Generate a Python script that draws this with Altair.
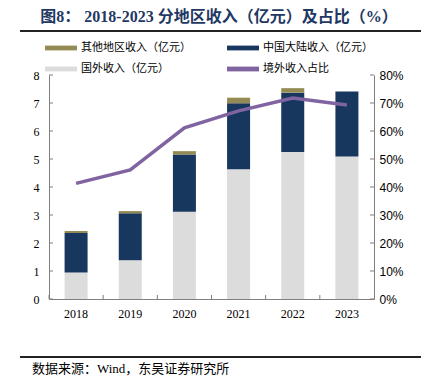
import altair as alt
import pandas as pd

years = ["2018", "2019", "2020", "2021", "2022", "2023"]
overseas = [0.95, 1.38, 3.12, 4.63, 5.25, 5.09]
mainland = [1.41, 1.68, 2.04, 2.36, 2.12, 2.32]
other = [0.07, 0.08, 0.12, 0.20, 0.16, 0.0]
share = [0.413, 0.461, 0.611, 0.672, 0.718, 0.693]

s_other = "其他地区收入（亿元）"
s_main = "中国大陆收入（亿元）"
s_over = "国外收入（亿元）"
s_share = "境外收入占比"
# legend fills column by column: col 1 = other, overseas ; col 2 = mainland, share
series_order = [s_other, s_over, s_main, s_share]
colors = ["#948A54", "#DCDCDC", "#17375E", "#8064A2"]

left_ticks = [0, 1, 2, 3, 4, 5, 6, 7, 8]
right_ticks = [0, 0.1, 0.2, 0.3, 0.4, 0.5, 0.6, 0.7, 0.8]

title_text = "图8： 2018-2023 分地区收入（亿元）及占比（%）"
source_text = "数据来源：Wind，东吴证券研究所"

SERIF = "Liberation Serif, Noto Sans CJK SC"
CJK = "Noto Sans CJK SC"
W, H = 325, 224

rows = []
for i, y in enumerate(years):
    rows.append({"year": y, "series": s_over, "value": overseas[i], "ord": 0})
    rows.append({"year": y, "series": s_main, "value": mainland[i], "ord": 1})
    rows.append({"year": y, "series": s_other, "value": other[i], "ord": 2})
bar_df = pd.DataFrame(rows)
line_df = pd.DataFrame({"year": years, "share": share})

xscale = alt.Scale(paddingInner=0, paddingOuter=0)
xenc = alt.X("year:N", scale=xscale, sort=years,
             axis=alt.Axis(title=None, labelAngle=0, ticks=False, labelFont=SERIF,
                           labelFontSize=12, labelColor="#000", labelPadding=9,
                           domainColor="#7f7f7f"))

left_axis = alt.Axis(title=None, orient="left", values=left_ticks, ticks=False,
                     grid=False, labelFont=SERIF, labelFontSize=12, labelColor="#000",
                     labelPadding=10, domainColor="#7f7f7f")
right_axis = alt.Axis(title=None, orient="right", values=right_ticks, format=".0%",
                      ticks=False, grid=False, labelFont="Liberation Sans",
                      labelFontSize=12, labelColor="#000", labelPadding=5,
                      domainColor="#7f7f7f")
lscale = alt.Scale(domain=[0, 8], nice=False)
rscale = alt.Scale(domain=[0, 0.8], nice=False)

color_enc = alt.Color("series:N", scale=alt.Scale(domain=series_order, range=colors),
                      legend=alt.Legend(title=None, orient="none", legendX=-4, legendY=-43,
                                        columns=2, symbolType="M-1,-0.15L1,-0.15L1,0.15L-1,0.15Z",
                                        symbolSize=1024, symbolStrokeWidth=0,
                                        labelFont=CJK, labelFontSize=11, labelColor="#000",
                                        labelOffset=4, columnPadding=36, rowPadding=0,
                                        labelLimit=200))

bars = alt.Chart(bar_df).mark_bar(size=23).encode(
    x=xenc,
    y=alt.Y("value:Q", stack="zero", scale=lscale, axis=left_axis),
    color=color_enc,
    order=alt.Order("ord:Q", sort="ascending"),
)

xticks = alt.Chart(pd.DataFrame({"year": years})).mark_rule(color="#7f7f7f").encode(
    x=alt.X("year:N", sort=years, bandPosition=0, scale=xscale),
    y=alt.value(H), y2=alt.value(H - 4),
)

lticks = alt.Chart(pd.DataFrame({"value": left_ticks})).mark_rule(color="#7f7f7f").encode(
    y=alt.Y("value:Q", scale=lscale, axis=left_axis), x=alt.value(0), x2=alt.value(4),
)

title = alt.Chart(pd.DataFrame({"t": [title_text]})).mark_text(
    font=SERIF, fontSize=16, fontWeight="bold", color="#1F3864", align="center",
    baseline="middle").encode(text="t:N", x=alt.value(170), y=alt.value(-58))

rule_top = alt.Chart(pd.DataFrame({"a": [0]})).mark_rule(strokeWidth=2, color="#222").encode(
    x=alt.value(-29), x2=alt.value(372), y=alt.value(-44))
rule_bot = alt.Chart(pd.DataFrame({"a": [0]})).mark_rule(strokeWidth=2, color="#222").encode(
    x=alt.value(-29), x2=alt.value(372), y=alt.value(282))

source = alt.Chart(pd.DataFrame({"t": [source_text]})).mark_text(
    font=SERIF, fontSize=13, color="#000", align="left", baseline="middle").encode(
    text="t:N", x=alt.value(-17), y=alt.value(294))

line = alt.Chart(line_df).mark_line(strokeWidth=3.5).encode(
    x=alt.X("year:N", sort=years, scale=xscale),
    y=alt.Y("share:Q", scale=rscale, axis=right_axis),
    color=alt.datum(s_share),
)

rticks = alt.Chart(pd.DataFrame({"share": right_ticks})).mark_rule(color="#7f7f7f").encode(
    y=alt.Y("share:Q", scale=rscale, axis=right_axis), x=alt.value(W), x2=alt.value(W - 4),
)

left = alt.layer(bars, xticks, lticks, title, rule_top, rule_bot, source)
right = alt.layer(line, rticks)

chart = alt.layer(left, right).resolve_scale(y="independent").properties(
    width=W, height=H,
    autosize=alt.AutoSizeParams(type="none"),
    padding={"left": 41, "top": 67, "right": 49, "bottom": 77},
).configure_view(stroke=None)

chart.save("out.html", embed_options={"renderer": "svg", "actions": False})
